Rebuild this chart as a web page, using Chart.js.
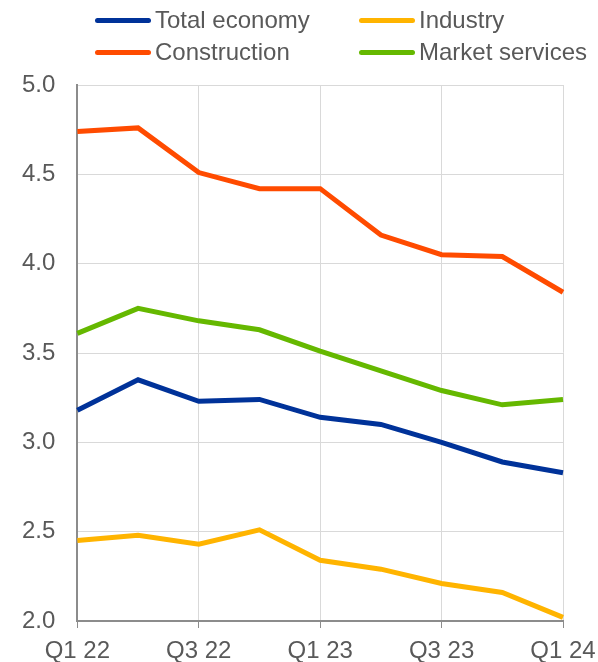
<!DOCTYPE html>
<html>
<head>
<meta charset="utf-8">
<script src="https://cdn.jsdelivr.net/npm/chart.js@4/dist/chart.umd.min.js"></script>
<style>
    html, body { margin: 0; padding: 0; background: #fff; }
    #wrap { position: relative; width: 598px; height: 662px; }
    #legend { position: absolute; left: 0; top: 0; width: 598px; height: 70px;
        font-family: "Liberation Sans", Arial, sans-serif; font-size: 24px; color: #595959; }
    .item { position: absolute; display: flex; align-items: center; height: 28px; white-space: nowrap; }
    .swatch { width: 56px; height: 5px; border-radius: 3px; margin-right: 4px; }
</style>
</head>
<body>
<div id="wrap">
    <canvas id="lineChart" width="598" height="662"></canvas>
    <div id="legend"></div>
</div>
<script>
const quarters = ['Q1 22', 'Q2 22', 'Q3 22', 'Q4 22', 'Q1 23', 'Q2 23', 'Q3 23', 'Q4 23', 'Q1 24'];
const totalEconomy = [3.18, 3.35, 3.23, 3.24, 3.14, 3.10, 3.00, 2.89, 2.83];
const industry = [2.45, 2.48, 2.43, 2.51, 2.34, 2.29, 2.21, 2.16, 2.02];
const construction = [4.74, 4.76, 4.51, 4.42, 4.42, 4.16, 4.05, 4.04, 3.84];
const marketServices = [3.61, 3.75, 3.68, 3.63, 3.51, 3.40, 3.29, 3.21, 3.24];
const yTicks = [2.0, 2.5, 3.0, 3.5, 4.0, 4.5, 5.0];

document.addEventListener('DOMContentLoaded', function() {
    const ctx = document.getElementById('lineChart').getContext('2d');
    const textColor = '#595959';
    const axisColor = '#8c8c8c';
    const gridColor = '#d9d9d9';
    const fontFamily = '"Liberation Sans", Arial, sans-serif';

    function series(label, data, color) {
        return {
            label: label,
            data: data,
            borderColor: color,
            backgroundColor: color,
            borderWidth: 5,
            pointRadius: 0,
            tension: 0,
            fill: false
        };
    }

    const datasets = [
        series('Total economy', totalEconomy, '#003299'),
        series('Industry', industry, '#ffb400'),
        series('Construction', construction, '#ff4b00'),
        series('Market services', marketServices, '#65b800')
    ];

    const chart = new Chart(ctx, {
        type: 'line',
        data: { labels: quarters, datasets: datasets },
        options: {
            responsive: false,
            animation: false,
            devicePixelRatio: 1,
            layout: { padding: { top: 85, left: 0, right: 35, bottom: -12 } },
            plugins: {
                legend: { display: false },
                tooltip: { enabled: false }
            },
            scales: {
                x: {
                    grid: { color: gridColor, tickColor: axisColor, tickLength: 7 },
                    border: { color: axisColor, width: 2 },
                    // keep the plot edges where the layout padding puts them
                    afterFit: function(axis) {
                        axis.paddingLeft = 0;
                        axis.paddingRight = 0;
                    },
                    ticks: {
                        autoSkip: false,
                        maxRotation: 0,
                        padding: 11,
                        color: textColor,
                        font: { family: fontFamily, size: 24, lineHeight: 1 },
                        callback: function(value, index) {
                            return index % 2 === 0 ? quarters[index] : null;
                        }
                    }
                },
                y: {
                    min: yTicks[0],
                    max: yTicks[yTicks.length - 1],
                    grid: { color: gridColor, drawTicks: false },
                    border: { color: axisColor, width: 2 },
                    afterBuildTicks: function(axis) {
                        axis.ticks = yTicks.map(v => ({ value: v }));
                    },
                    ticks: {
                        padding: 22,
                        color: textColor,
                        font: { family: fontFamily, size: 24 },
                        callback: value => Number(value).toFixed(1)
                    }
                }
            }
        }
    });

    // html legend, two columns like the original
    const legend = document.getElementById('legend');
    const columns = [95, 359];
    const rows = [6, 38];
    chart.data.datasets.forEach(function(ds, i) {
        const item = document.createElement('div');
        item.className = 'item';
        item.style.left = columns[i % 2] + 'px';
        item.style.top = rows[Math.floor(i / 2)] + 'px';
        const swatch = document.createElement('span');
        swatch.className = 'swatch';
        swatch.style.background = ds.borderColor;
        const text = document.createElement('span');
        text.textContent = ds.label;
        item.appendChild(swatch);
        item.appendChild(text);
        legend.appendChild(item);
    });
});
</script>
</body>
</html>
